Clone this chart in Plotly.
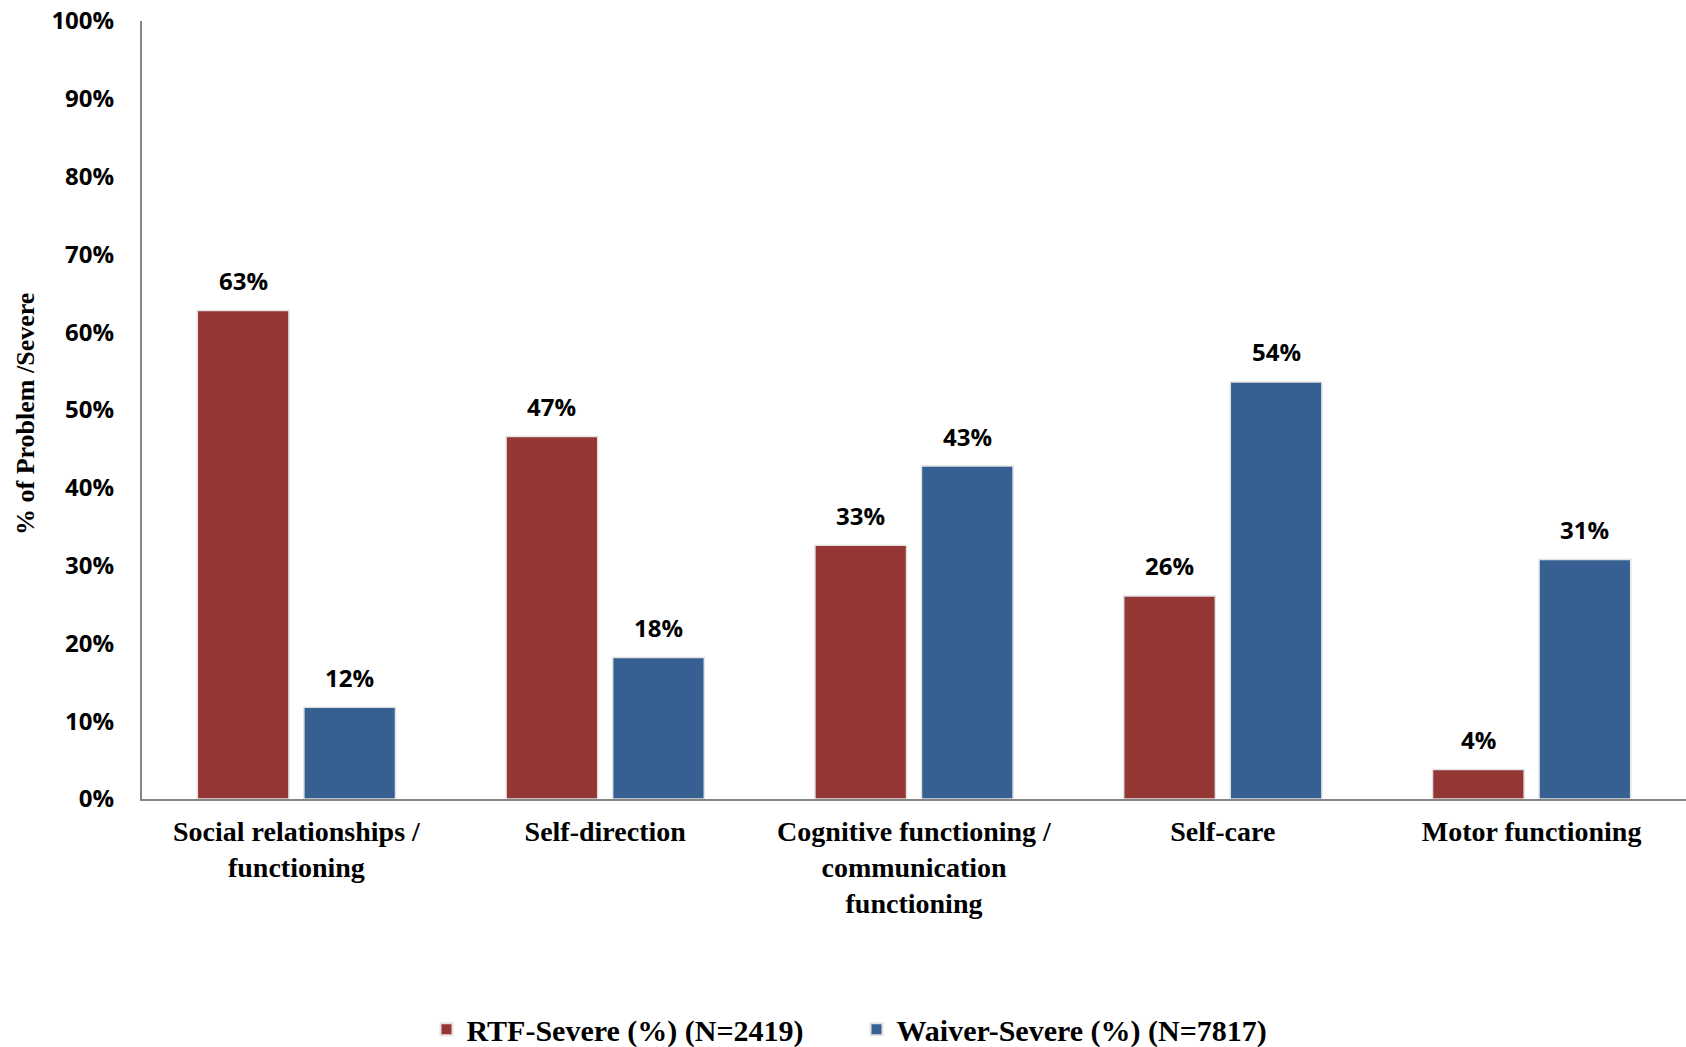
import plotly.graph_objects as go

categories = [
    "Social relationships /<br>functioning",
    "Self-direction",
    "Cognitive functioning /<br>communication<br>functioning",
    "Self-care",
    "Motor functioning",
]
rtf_values = [62.8, 46.6, 32.6, 26.1, 3.8]
waiver_values = [11.8, 18.2, 42.8, 53.6, 30.8]
series_names = ["RTF-Severe (%) (N=2419)", "Waiver-Severe (%) (N=7817)"]
y_ticks = [0, 10, 20, 30, 40, 50, 60, 70, 80, 90, 100]
y_tick_labels = [f"{t}%" for t in y_ticks]
y_title = "% of Problem /Severe"

RED = "#943634"
BLUE = "#366092"
BARGAP = 0.31
BARGROUPGAP = 0.14
SANS = "Open Sans"
SERIF = "Liberation Serif"

fig = go.Figure()
for name, vals, col in [(series_names[0], rtf_values, RED), (series_names[1], waiver_values, BLUE)]:
    fig.add_trace(go.Bar(
        x=list(range(len(categories))), y=vals, name=name,
        marker=dict(color=col, line=dict(color="#e3e3e3", width=1.5)),
        hoverinfo="skip",
    ))

offset = (1 - BARGAP) / 4
annotations = []
for series, sign in [(rtf_values, -1), (waiver_values, 1)]:
    for i, v in enumerate(series):
        annotations.append(dict(
            x=i + sign * offset, y=v, xref="x", yref="y",
            text=f"<b>{v:.0f}%</b>", showarrow=False,
            yanchor="middle", yshift=30,
            font=dict(family=SANS, size=24, color="black"),
        ))
annotations.append(dict(
    x=0, y=0.5, xref="paper", yref="paper", xshift=-117, yshift=-4,
    xanchor="center", yanchor="middle", textangle=-90,
    text=f"<b>{y_title}</b>", showarrow=False,
    font=dict(family=SERIF, size=26, color="black"),
))

fig.update_layout(
    width=1686, height=1047,
    margin=dict(l=142, r=0, t=21, b=248),
    paper_bgcolor="white", plot_bgcolor="white",
    barmode="group", bargap=BARGAP, bargroupgap=BARGROUPGAP,
    showlegend=True,
    legend=dict(
        orientation="h", xref="container", yref="container",
        x=0.508, xanchor="center", y=0.017, yanchor="middle",
        font=dict(family=SERIF, size=30, color="black", weight="bold"),
        itemsizing="constant", traceorder="normal",
        entrywidth=385, entrywidthmode="pixels",
    ),
    annotations=annotations,
)
fig.update_xaxes(
    tickmode="array", tickvals=list(range(len(categories))),
    ticktext=[f"<b>{c}</b>" for c in categories],
    range=[-0.5, len(categories) - 0.5],
    showline=True, linecolor="#868686", linewidth=2,
    showgrid=False, ticks="", zeroline=False,
    ticklabelstandoff=6,
    tickfont=dict(family=SERIF, size=28, color="black"),
)
fig.update_yaxes(
    range=[0, 100], tickmode="array", tickvals=y_ticks,
    ticktext=[f"<b>{t}</b>" for t in y_tick_labels],
    showline=True, linecolor="#868686", linewidth=2,
    showgrid=False, ticks="", zeroline=False,
    ticklabelstandoff=21,
    tickfont=dict(family=SANS, size=24, color="black"),
)

fig.write_html("out.html")
